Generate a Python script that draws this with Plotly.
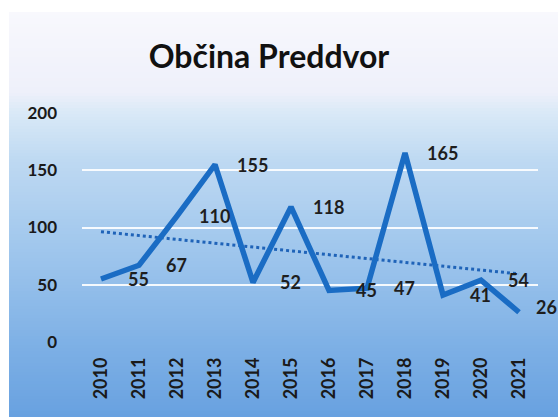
import numpy as np
import plotly.graph_objects as go

years = ["2010", "2011", "2012", "2013", "2014", "2015", "2016", "2017", "2018", "2019", "2020", "2021"]
values = [55, 67, 110, 155, 52, 118, 45, 47, 165, 41, 54, 26]
y_ticks = [0, 50, 100, 150, 200]
title_text = "Občina Preddvor"

W, H = 558, 417
fig = go.Figure()

# linear trendline (least squares on the data, as the spreadsheet trendline does)
xi = np.arange(len(values))
slope, intercept = np.polyfit(xi, values, 1)
trend = [intercept + slope * i for i in (0, len(values) - 1)]

fig.add_trace(go.Scatter(x=[years[0], years[-1]], y=trend, mode="lines",
                         line=dict(color="#1f63b8", width=3, dash="dot"),
                         hoverinfo="skip", showlegend=False))
fig.add_trace(go.Scatter(x=years, y=values, mode="lines",
                         line=dict(color="#1a6cc4", width=5.5),
                         showlegend=False))

annotations = []
n = len(values)
for i, v in enumerate(values):
    last = i == n - 1
    annotations.append(dict(x=i, y=v, xref="x", yref="y", text=str(v), showarrow=False,
                            xshift=27 if last else 37, yshift=5 if last else 0,
                            font=dict(family="Lato", size=18, color="#1e1e1e",
                                      weight="bold")))

# gradient background made of thin strips
stops = [(0, (255, 255, 255)), (12, (248, 248, 253)), (92, (238, 240, 250)),
         (112, (218, 233, 247)), (160, (190, 217, 242)), (260, (156, 196, 236)),
         (350, (124, 175, 229)), (417, (104, 161, 224))]
def col(y):
    for (y0, c0), (y1, c1) in zip(stops[:-1], stops[1:]):
        if y0 <= y <= y1:
            t = (y - y0) / (y1 - y0) if y1 > y0 else 0
            return "rgb(%d,%d,%d)" % tuple(round(a + (b - a) * t) for a, b in zip(c0, c1))
    return "rgb(104,161,224)"
shapes = []
step = 3
for y in range(12, H, step):
    shapes.append(dict(type="rect", xref="paper", yref="paper", layer="below",
                       x0=9 / W, x1=1, y0=1 - (y + step + 0.5) / H, y1=1 - y / H,
                       fillcolor=col(y + step / 2), line=dict(width=0)))

fig.update_layout(
    width=W, height=H, margin=dict(l=0, r=0, t=0, b=0, autoexpand=False),
    paper_bgcolor="white", plot_bgcolor="rgba(0,0,0,0)",
    shapes=shapes, annotations=annotations,
    title=dict(text=title_text, x=269 / W, xanchor="center", y=1 - 57 / H, yanchor="middle",
               font=dict(family="Lato", size=32, color="#111111", weight="bold")),
    xaxis=dict(type="category", categoryorder="array", categoryarray=years,
               range=[-0.5, 11.5], domain=[82 / W, 538 / W], automargin=False,
               showgrid=False, zeroline=False, showline=False, ticks="",
               tickangle=-90, ticklabelstandoff=11,
               tickfont=dict(family="Lato", size=18, color="#1a1a1a", weight="bold")),
    yaxis=dict(range=[0, 200], tickvals=y_ticks, domain=[(H - 342) / H, (H - 113) / H],
               automargin=False,
               showgrid=True, gridcolor="rgba(255,255,255,0.9)", gridwidth=2,
               zeroline=False, showline=False, ticks="", ticklabelstandoff=24,
               tickfont=dict(family="Lato", size=17, color="#1a1a1a", weight="bold")),
)

fig.write_html("out.html", config={"displayModeBar": False},
               post_script="document.body.style.margin='0';document.body.style.overflow='hidden';")
